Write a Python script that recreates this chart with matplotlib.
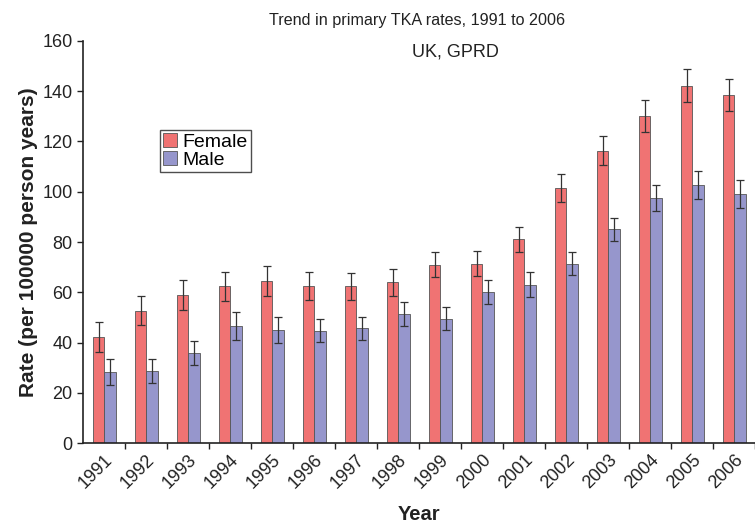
import matplotlib

matplotlib.use("Agg")
import matplotlib.pyplot as plt
import numpy as np

# ── values ─────────────────────────────────────────────────────────────────
YEARS = [str(y) for y in range(1991, 2007)]
FEMALE = [42.2, 52.7, 58.8, 62.4, 64.5, 62.6, 62.4, 64.0,
          71.0, 71.4, 81.1, 101.5, 116.3, 130.2, 142.2, 138.5]
FEMALE_ERR = [5.8, 5.7, 6.0, 5.8, 6.1, 5.6, 5.3, 5.3,
              4.9, 5.1, 5.0, 5.6, 5.7, 6.3, 6.5, 6.3]
MALE = [28.2, 28.7, 35.9, 46.6, 45.1, 44.7, 45.6, 51.2,
        49.4, 60.1, 63.0, 71.3, 85.0, 97.5, 102.8, 99.2]
MALE_ERR = [5.2, 4.7, 4.9, 5.6, 5.1, 4.6, 4.7, 4.8,
            4.6, 4.7, 5.0, 4.6, 4.7, 5.3, 5.5, 5.5]
Y_TICKS = [0, 20, 40, 60, 80, 100, 120, 140, 160]

C_FEMALE = "#f07373"
C_MALE = "#9696cc"
EDGE = "#555555"
INK = "#222222"


def main():
    plt.rcParams.update({"font.family": "Liberation Sans"})
    fig = plt.figure(figsize=(7.55, 5.25), dpi=100)
    ax = fig.add_axes([0.110, 0.156, 0.89, 0.766])

    x = np.arange(len(YEARS))
    w = 0.28
    err_kw = dict(ecolor="#333333", elinewidth=0.9, capsize=3, capthick=0.9)
    ax.bar(x - 0.13, FEMALE, w, yerr=FEMALE_ERR, color=C_FEMALE,
           edgecolor=EDGE, linewidth=0.6, error_kw=err_kw, label="Female")
    ax.bar(x + 0.15, MALE, w, yerr=MALE_ERR, color=C_MALE,
           edgecolor=EDGE, linewidth=0.6, error_kw=err_kw, label="Male")

    ax.set_xlim(-0.5, 15.31)
    ax.set_ylim(0, 160)
    ax.set_yticks(Y_TICKS)
    ax.tick_params(axis="y", labelsize=13, colors=INK, length=4, width=1)

    # ticks sit on group boundaries, labels on group centres
    ax.set_xticks(x + 0.5)
    ax.set_xticklabels([])
    ax.set_xticks(x, minor=True)
    ax.set_xticklabels(YEARS, minor=True, rotation=45, ha="right",
                       rotation_mode="anchor", fontsize=13, color=INK)
    ax.tick_params(axis="x", which="major", length=4, width=1, colors=INK)
    ax.tick_params(axis="x", which="minor", length=0, pad=6)

    for s in ("top", "right"):
        ax.spines[s].set_visible(False)
    for s in ("left", "bottom"):
        ax.spines[s].set_color(INK)
        ax.spines[s].set_linewidth(1.2)

    ax.set_ylabel("Rate (per 100000 person years)", fontsize=15,
                  fontweight="bold", color=INK, labelpad=3)
    ax.set_xlabel("Year", fontsize=14.5, fontweight="bold", color=INK,
                  labelpad=9)

    # the two title lines are not centred on each other in the reference
    fig.text(0.553, 0.960, "Trend in primary TKA rates, 1991 to 2006",
             fontsize=11.6, color=INK, ha="center", va="center")
    fig.text(0.603, 0.901, "UK, GPRD", fontsize=13, color=INK,
             ha="center", va="center")

    leg = ax.legend(loc="upper left", bbox_to_anchor=(0.115, 0.778),
                    fontsize=14, frameon=True, fancybox=False,
                    handlelength=0.7, handleheight=0.7, handletextpad=0.3,
                    borderpad=0.15, labelspacing=0.02, borderaxespad=0)
    leg.get_frame().set_edgecolor(INK)
    leg.get_frame().set_linewidth(1.0)

    fig.savefig("out.png", dpi=100)


if __name__ == "__main__":
    main()
